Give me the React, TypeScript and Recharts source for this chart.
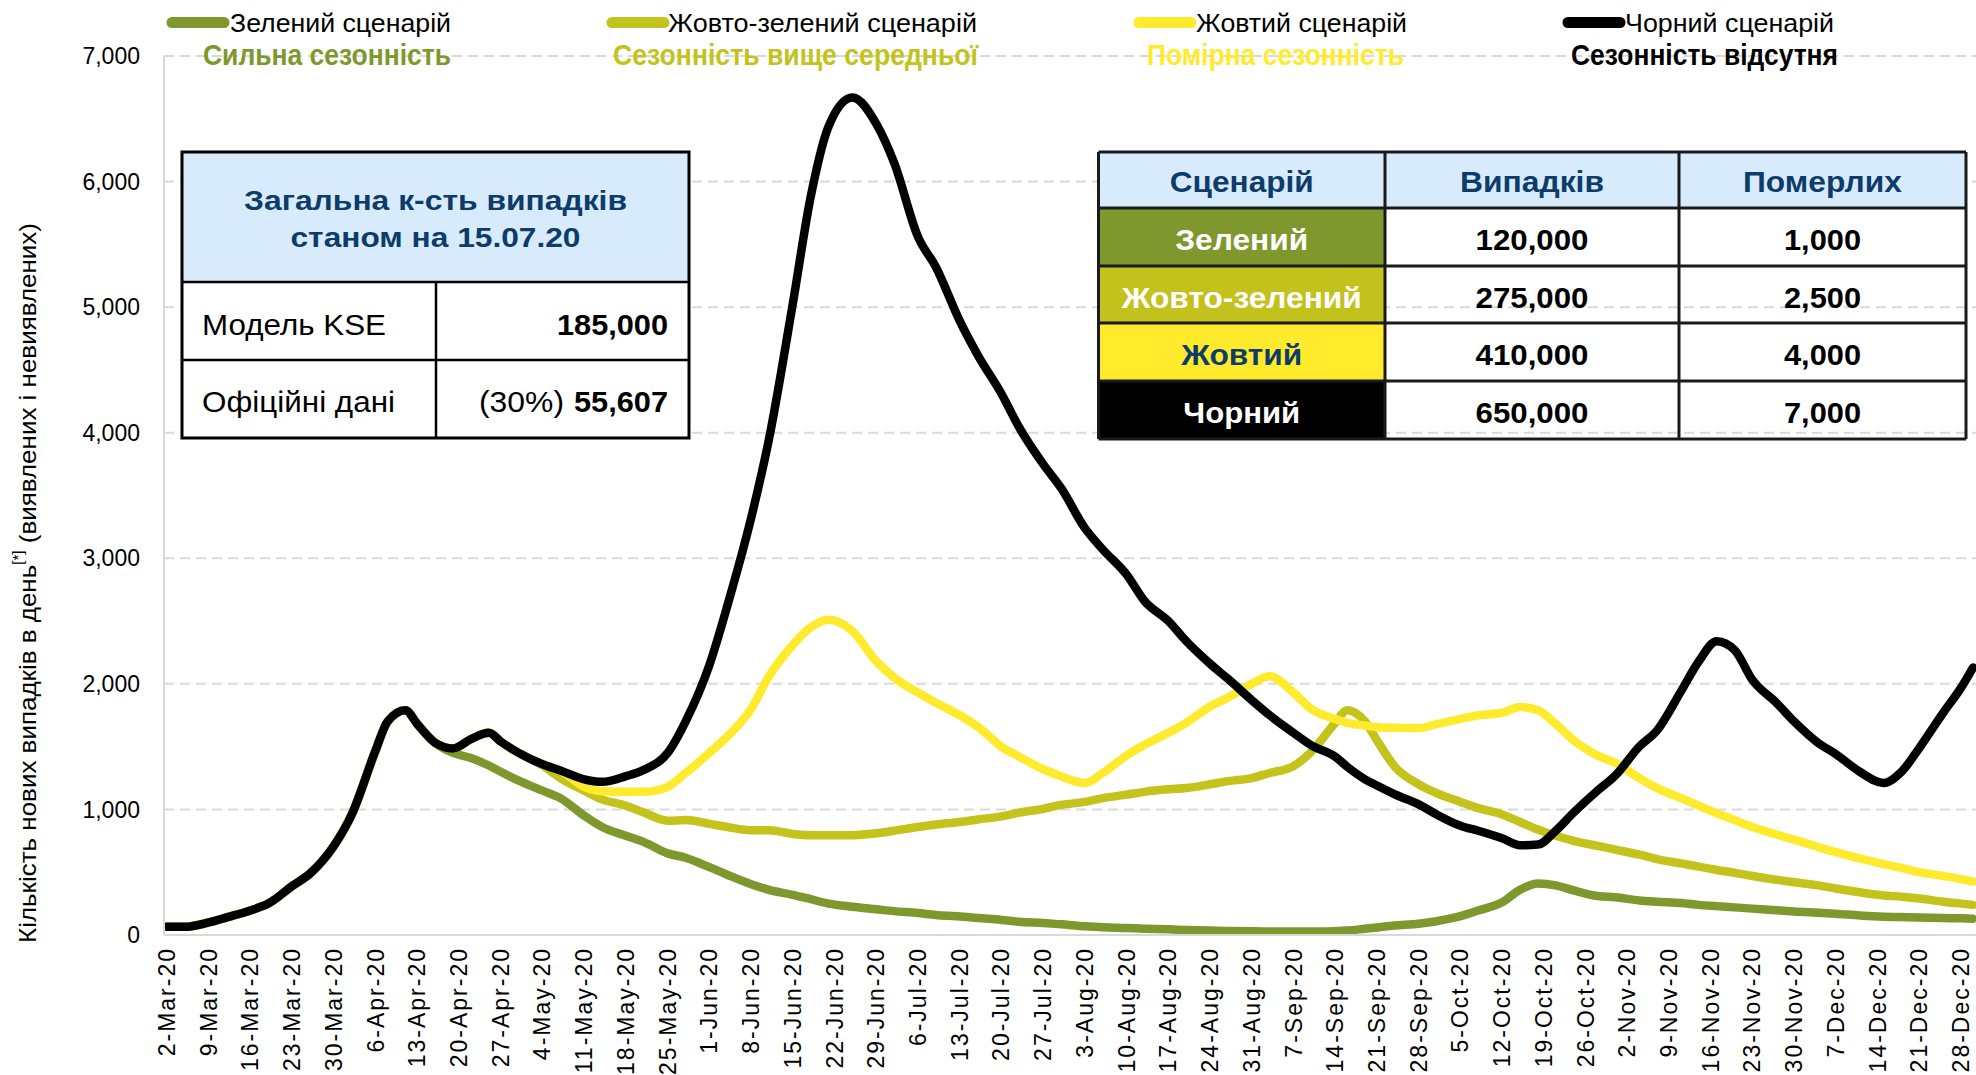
import React from 'react';
import { LineChart, Line, XAxis, YAxis, CartesianGrid } from 'recharts';

// day offsets from 2-Mar-2020
const days = [0,3,7,10,14,17,21,24,28,31,35,37,40,42,45,48,51,54,56,59,63,66,70,73,77,80,84,87,91,94,98,101,105,108,111,115,119,122,126,129,133,136,140,143,147,150,154,157,161,164,168,171,175,178,182,185,189,192,196,198,201,203,206,210,213,217,220,224,227,230,233,236,240,243,247,250,254,257,260,263,266,270,273,277,280,284,288,291,294,298,301,303];

const blackValues = [65,65,100,140,195,250,390,490,710,960,1470,1700,1790,1680,1530,1485,1560,1610,1540,1450,1360,1310,1240,1220,1265,1315,1450,1700,2150,2620,3320,3950,5030,5880,6440,6670,6460,6150,5560,5320,4890,4620,4310,4040,3750,3560,3240,3070,2870,2660,2500,2340,2160,2040,1870,1750,1610,1510,1420,1340,1240,1190,1120,1040,960,870,830,770,715,720,830,975,1150,1270,1500,1630,1940,2180,2340,2270,2030,1850,1700,1530,1440,1300,1210,1300,1490,1770,1970,2130];

const greenValues = [65,65,100,140,195,250,390,490,710,960,1470,1700,1790,1680,1530,1450,1410,1350,1300,1230,1150,1090,950,860,790,740,650,615,540,480,405,360,320,285,250,225,205,190,175,160,148,135,120,105,95,85,70,62,56,50,45,40,35,32,30,28,27,27,30,35,50,60,75,90,110,150,195,260,360,410,395,355,310,300,275,265,255,240,230,220,210,198,188,178,170,155,145,143,140,135,133,130];

const yellowGreenValues = [65,65,100,140,195,250,390,490,710,960,1470,1700,1790,1680,1530,1485,1560,1610,1540,1450,1350,1250,1150,1080,1030,975,910,915,885,860,834,834,805,795,794,795,810,830,860,880,900,920,945,975,1005,1036,1060,1090,1118,1140,1160,1170,1200,1225,1250,1290,1345,1460,1690,1790,1700,1550,1340,1200,1130,1060,1010,960,900,840,790,750,710,680,640,605,570,545,518,495,470,440,420,395,370,340,315,305,290,265,250,240];

const yellowValues = [65,65,100,140,195,250,390,490,710,960,1470,1700,1790,1680,1530,1485,1560,1610,1540,1450,1360,1310,1180,1145,1140,1140,1180,1290,1450,1580,1800,2060,2310,2450,2510,2420,2180,2050,1930,1850,1750,1660,1500,1420,1320,1265,1210,1290,1430,1515,1610,1690,1820,1890,2000,2060,1930,1800,1720,1690,1668,1655,1650,1648,1680,1720,1750,1770,1815,1790,1680,1550,1430,1370,1250,1170,1090,1030,969,915,860,800,760,700,660,610,565,535,500,470,445,425];

const tickDays = [0,7,14,21,28,35,42,49,56,63,70,77,84,91,98,105,112,119,126,133,140,147,154,161,168,175,182,189,196,203,210,217,224,231,238,245,252,259,266,273,280,287,294,301];
const tickLabels = ['2-Mar-20','9-Mar-20','16-Mar-20','23-Mar-20','30-Mar-20','6-Apr-20','13-Apr-20','20-Apr-20','27-Apr-20','4-May-20','11-May-20','18-May-20','25-May-20','1-Jun-20','8-Jun-20','15-Jun-20','22-Jun-20','29-Jun-20','6-Jul-20','13-Jul-20','20-Jul-20','27-Jul-20','3-Aug-20','10-Aug-20','17-Aug-20','24-Aug-20','31-Aug-20','7-Sep-20','14-Sep-20','21-Sep-20','28-Sep-20','5-Oct-20','12-Oct-20','19-Oct-20','26-Oct-20','2-Nov-20','9-Nov-20','16-Nov-20','23-Nov-20','30-Nov-20','7-Dec-20','14-Dec-20','21-Dec-20','28-Dec-20'];
const yTicks = [0,1000,2000,3000,4000,5000,6000,7000];

const legendNames = ['Зелений сценарій','Жовто-зелений сценарій','Жовтий сценарій','Чорний сценарій'];
const legendSubtitles = ['Сильна сезонність','Сезонність вище середньої','Помірна сезонність','Сезонність відсутня'];

const scenarioNames = ['Зелений','Жовто-зелений','Жовтий','Чорний'];
const scenarioCases = ['120,000','275,000','410,000','650,000'];
const scenarioDeaths = ['1,000','2,500','4,000','7,000'];
const tableHeaders = ['Сценарій','Випадків','Померлих'];

const totalTitle = ['Загальна к-сть випадків','станом на 15.07.20'];
const modelLabel = 'Модель KSE';
const modelValue = '185,000';
const officialLabel = 'Офіційні дані';
const officialShare = '(30%)';
const officialValue = '55,607';

const COLORS = ['#7E982E', '#C3C31C', '#FFEB2E', '#000000'];
const seriesKeys = ['green', 'yg', 'yellow', 'black'];
const FONT = '"Liberation Sans", Arial, sans-serif';
const NAVY = '#0E3C6A';

const data = days.map((d, i) => ({
  day: d,
  green: greenValues[i],
  yg: yellowGreenValues[i],
  yellow: yellowValues[i],
  black: blackValues[i],
}));

const XTick = (props: any) => {
  const { x, y, payload } = props;
  const idx = tickDays.indexOf(payload.value);
  return (
    <g transform={`translate(${x},${y})`}>
      <text transform="rotate(-90)" x={-12} y={0} textAnchor="end" dominantBaseline="central"
        fontSize={23} letterSpacing={2} fill="#000" fontFamily={FONT}>{tickLabels[idx]}</text>
    </g>
  );
};

const legendLayout = [
  { m1: 172, m2: 224, tx: 230, tw: 221, sx: 203, sw: 248 },
  { m1: 612, m2: 664, tx: 668, tw: 309, sx: 613, sw: 365 },
  { m1: 1139, m2: 1191, tx: 1196, tw: 211, sx: 1147, sw: 257 },
  { m1: 1568, m2: 1620, tx: 1625, tw: 209, sx: 1571, sw: 267 },
];

const nameWidths = [133, 240, 121, 117];
const headerWidths = [144, 144, 159];
const nameFills = ['#7E982E', '#C3C11C', '#FFEB2C', '#000000'];
const nameText = ['#FFFFFF', '#FFFFFF', NAVY, '#FFFFFF'];

const Overlay = () => {
  const colX = [1098.5, 1385, 1679, 1966];
  const rowY = [152, 208, 266, 323, 381, 439];
  return (
    <svg width={1976} height={1075} style={{ position: 'absolute', left: 0, top: 0, pointerEvents: 'none' }} fontFamily={FONT}>
      {/* legend */}
      {legendLayout.map((l, i) => (
        <g key={i}>
          <line x1={l.m1} x2={l.m2} y1={22.5} y2={22.5} stroke={COLORS[i]} strokeWidth={11} strokeLinecap="round" />
          <text x={l.tx} y={31.5} fontSize={26} fill="#000" textLength={l.tw} lengthAdjust="spacingAndGlyphs">{legendNames[i]}</text>
          <text x={l.sx} y={65} fontSize={30} fontWeight="bold" fill={COLORS[i]} textLength={l.sw} lengthAdjust="spacingAndGlyphs">{legendSubtitles[i]}</text>
        </g>
      ))}
      {/* y axis title */}
      <text transform="translate(27,583) rotate(-90)" textAnchor="middle" dominantBaseline="central" fontSize={24} fill="#000"
        textLength={720} lengthAdjust="spacingAndGlyphs">
        Кількість нових випадків в день<tspan fontSize={14} dy={-9}>[*]</tspan><tspan dy={9}> (виявлених і невиявлених)</tspan>
      </text>

      {/* left table */}
      <rect x={182} y={152} width={507} height={130} fill="#D7EBFC" />
      <rect x={182} y={282} width={507} height={156} fill="#FFFFFF" />
      <text x={435.5} y={210} textAnchor="middle" fontSize={28} fontWeight="bold" fill={NAVY} textLength={383} lengthAdjust="spacingAndGlyphs">{totalTitle[0]}</text>
      <text x={435.5} y={247} textAnchor="middle" fontSize={28} fontWeight="bold" fill={NAVY} textLength={290} lengthAdjust="spacingAndGlyphs">{totalTitle[1]}</text>
      <text x={202} y={335} fontSize={29} fill="#000" textLength={184} lengthAdjust="spacingAndGlyphs">{modelLabel}</text>
      <text x={557} y={335} fontSize={29} fontWeight="bold" fill="#000" textLength={111} lengthAdjust="spacingAndGlyphs">{modelValue}</text>
      <text x={202} y={412} fontSize={29} fill="#000" textLength={193} lengthAdjust="spacingAndGlyphs">{officialLabel}</text>
      <text x={479} y={412} fontSize={29} fill="#000" textLength={85} lengthAdjust="spacingAndGlyphs">{officialShare}</text>
      <text x={574} y={412} fontSize={29} fontWeight="bold" fill="#000" textLength={94} lengthAdjust="spacingAndGlyphs">{officialValue}</text>
      <rect x={182} y={152} width={507} height={286} fill="none" stroke="#000" strokeWidth={3} />
      <line x1={182} x2={689} y1={282} y2={282} stroke="#000" strokeWidth={2.5} />
      <line x1={182} x2={689} y1={360} y2={360} stroke="#000" strokeWidth={2.5} />
      <line x1={436} x2={436} y1={282} y2={438} stroke="#000" strokeWidth={2.5} />

      {/* right table */}
      <rect x={colX[0]} y={rowY[0]} width={colX[3] - colX[0]} height={rowY[1] - rowY[0]} fill="#D7EBFC" />
      {tableHeaders.map((h, c) => (
        <text key={h} x={(colX[c] + colX[c + 1]) / 2} y={192} textAnchor="middle" fontSize={30} fontWeight="bold" fill={NAVY}
          textLength={headerWidths[c]} lengthAdjust="spacingAndGlyphs">{h}</text>
      ))}
      {scenarioNames.map((n, r) => {
        const y0 = rowY[r + 1];
        const y1 = rowY[r + 2];
        const base = (y0 + y1) / 2 + 13;
        return (
          <g key={n}>
            <rect x={colX[0]} y={y0} width={colX[1] - colX[0]} height={y1 - y0} fill={nameFills[r]} />
            <text x={(colX[0] + colX[1]) / 2} y={base} textAnchor="middle" fontSize={30} fontWeight="bold" fill={nameText[r]}
              textLength={nameWidths[r]} lengthAdjust="spacingAndGlyphs">{n}</text>
            <text x={(colX[1] + colX[2]) / 2} y={base} textAnchor="middle" fontSize={30} fontWeight="bold" fill="#000"
              textLength={113} lengthAdjust="spacingAndGlyphs">{scenarioCases[r]}</text>
            <text x={(colX[2] + colX[3]) / 2} y={base} textAnchor="middle" fontSize={30} fontWeight="bold" fill="#000"
              textLength={77} lengthAdjust="spacingAndGlyphs">{scenarioDeaths[r]}</text>
          </g>
        );
      })}
      {rowY.map((y) => (
        <line key={y} x1={colX[0]} x2={colX[3]} y1={y} y2={y} stroke="#1A1A1A" strokeWidth={3} />
      ))}
      {colX.map((x) => (
        <line key={x} x1={x} x2={x} y1={rowY[0]} y2={rowY[5]} stroke="#1A1A1A" strokeWidth={3} />
      ))}
    </svg>
  );
};

export default function App() {
  return (
    <div style={{ position: 'absolute', left: 0, top: 0, width: 1976, height: 1075, background: '#FFFFFF', fontFamily: FONT }}>
      <LineChart width={1976} height={1075} data={data} margin={{ top: 56, right: 0, bottom: 0, left: 0 }}>
        <CartesianGrid vertical={false} stroke="#D9D9D9" strokeDasharray="10 6" strokeWidth={2} />
        <XAxis type="number" dataKey="day" domain={[-0.5, 303.5]} allowDataOverflow ticks={tickDays} interval={0}
          tick={<XTick />} tickLine={false} tickSize={0} tickMargin={0} height={140}
          axisLine={{ stroke: '#D9D9D9', strokeWidth: 2 }} />
        <YAxis type="number" domain={[0, 7000]} ticks={yTicks} width={164} tickLine={false} tickSize={0} tickMargin={24}
          axisLine={{ stroke: '#D9D9D9', strokeWidth: 2 }}
          tick={{ fontSize: 23, fill: '#000', fontFamily: FONT }}
          tickFormatter={(v: number) => v.toLocaleString('en-US')} />
        {seriesKeys.map((k, i) => (
          <Line key={k} type="monotone" dataKey={k} stroke={COLORS[i]} strokeWidth={8.5} dot={false}
            strokeLinejoin="round" strokeLinecap="round" isAnimationActive={false} />
        ))}
      </LineChart>
      <Overlay />
    </div>
  );
}
